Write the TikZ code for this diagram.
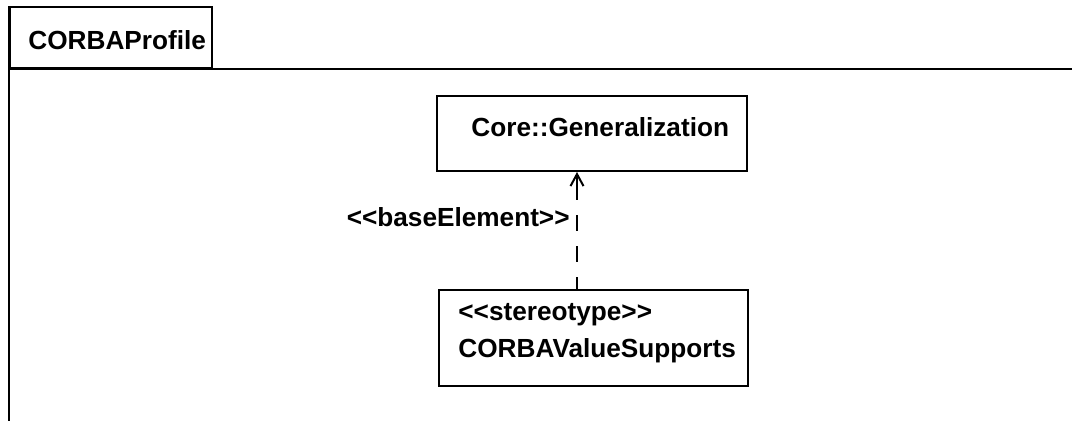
\documentclass[tikz,border=0pt]{standalone}
\usepackage{fontspec}
\setmainfont{Liberation Sans}[Ligatures=TeXOff]
\usetikzlibrary{arrows.meta, positioning}
\tikzstyle{clase} = [draw, line width=1pt, rectangle, inner sep=0pt]
\tikzstyle{texto} = [font=\bfseries\fontsize{13.1}{18.5}\selectfont, inner sep=0pt]
\tikzstyle{dependencia} = [line width=1pt, dash pattern=on 12.5pt off 7.5pt on 8pt off 7.5pt on 8pt off 7.5pt on 8pt off 7.5pt, {Straight Barb[length=6pt,width=6.5pt]}-]

\begin{document}
\begin{tikzpicture}[x=0.5pt, y=-0.5pt]
	\useasboundingbox (0,0) rectangle (1072,421);
	% paquete
	\node[clase, minimum width=101pt, minimum height=30.5pt, anchor=north west] (pestana) at (8.5,6.5) {};
	\coordinate (derecha) at (1072,67.5);
	\coordinate (abajo) at (9,421);
	\draw[line width=1pt] (pestana.south west) -- (pestana.south west -| derecha);
	\draw[line width=1pt] (pestana.north west) -- (pestana.north west |- abajo);
	\node[texto, anchor=base west] (titulo) at (28,50) {CORBAProfile};
	% clases
	\node[clase, minimum width=155pt, minimum height=37.5pt, anchor=north west] (gen) at (436,95) {};
	\node[texto, anchor=base west] (nombregen) at (471,137) {Core::Generalization};
	\node[clase, minimum width=154.5pt, minimum height=48pt, anchor=north west] (valor) at (438,289) {};
	\node[texto, anchor=base west] (estereotipo) at (458,321) {<<stereotype>>};
	\node[texto, anchor=base west] (nombrevalor) at (458,358) {CORBAValueSupports};
	% dependencia
	\coordinate (eje) at (577,0);
	\draw[dependencia] (eje |- gen.south) -- (eje |- valor.north);
	\node[texto, anchor=base east] (etiqueta) at (570,227) {<<baseElement>>};
\end{tikzpicture}
\end{document}
